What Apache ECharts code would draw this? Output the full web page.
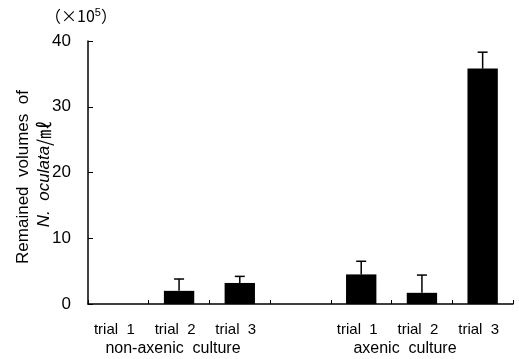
<!DOCTYPE html>
<html>
<head>
<meta charset="utf-8">
<script src="https://cdn.jsdelivr.net/npm/echarts@6/dist/echarts.min.js"></script>
<style>
  html, body { margin: 0; padding: 0; background: #fff; }
</style>
</head>
<body>
<div id="chart" style="width:519px;height:359px;"></div>
<script>
  var trials = ['trial  1', 'trial  2', 'trial  3', '', 'trial  1', 'trial  2', 'trial  3'];
  var volumes = [0, 2.0, 3.2, '-', 4.5, 1.7, 35.8];
  var errorTops = [0, 3.8, 4.2, '-', 6.5, 4.4, 38.3];
  var yTicks = [0, 10, 20, 30, 40];

  var chart = echarts.init(document.getElementById('chart'));
  var font = 'Liberation Sans, Arial, sans-serif';

  var errData = [];
  for (var i = 0; i < trials.length; i++) {
    if (volumes[i] !== '-' && volumes[i] > 0) {
      errData.push([i, volumes[i], errorTops[i]]);
    }
  }

  var option = {
    animation: false,
    grid: { left: 88, right: 6, top: 41, bottom: 55 },
    xAxis: {
      type: 'category',
      data: trials,
      boundaryGap: true,
      axisLine: { lineStyle: { color: '#000', width: 1.5 } },
      axisTick: { show: true, inside: true, length: 4, lineStyle: { color: '#000' } },
      axisLabel: { color: '#000', fontSize: 15, fontFamily: font, margin: 18, padding: [0, 8, 0, 0] }
    },
    yAxis: {
      type: 'value',
      min: yTicks[0],
      max: yTicks[yTicks.length - 1],
      interval: 10,
      splitLine: { show: false },
      axisLine: { show: true, lineStyle: { color: '#000', width: 1.5 } },
      axisTick: { show: true, inside: true, length: 5, lineStyle: { color: '#000' } },
      axisLabel: { color: '#000', fontSize: 17, fontFamily: font, margin: 17 }
    },
    graphic: [
      { type: 'text', left: 45, top: 7, style: {
        text: '（×10{s|5}）', fontSize: 16, fontFamily: 'Noto Sans CJK JP, sans-serif', fill: '#000',
        rich: { s: { fontSize: 11, verticalAlign: 'top', padding: [0, 0, 7, 0], fontFamily: font } }
      } },
      { type: 'text', x: 173, y: 349, style: { text: 'non-axenic  culture', fontSize: 16, fontFamily: font, fill: '#000', align: 'center', verticalAlign: 'middle' } },
      { type: 'text', x: 405, y: 349, style: { text: 'axenic  culture', fontSize: 16, fontFamily: font, fill: '#000', align: 'center', verticalAlign: 'middle' } },
      { type: 'text', x: 23, y: 177, rotation: Math.PI / 2, style: { text: 'Remained  volumes  of', fontSize: 17, fontFamily: font, fill: '#000', align: 'center', verticalAlign: 'middle' } },
      { type: 'text', x: 44, y: 174, rotation: Math.PI / 2, style: {
        text: '{i|N.  oculata}{m|/㎖}',
        fontSize: 17, fontFamily: font, fill: '#000', align: 'center', verticalAlign: 'middle',
        rich: {
          i: { fontStyle: 'italic', fontSize: 17, fontFamily: font, fill: '#000' },
          m: { fontSize: 18, fontFamily: 'Noto Sans CJK JP, sans-serif', fill: '#000' }
        }
      } }
    ],
    series: [
      {
        type: 'bar',
        data: volumes,
        barWidth: '50%',
        itemStyle: { color: '#000' }
      },
      {
        type: 'custom',
        data: errData,
        z: 5,
        renderItem: function (params, api) {
          var x = api.value(0);
          var lo = api.coord([x, api.value(1)]);
          var hi = api.coord([x, api.value(2)]);
          var cap = 5;
          return {
            type: 'group',
            children: [
              { type: 'line', shape: { x1: lo[0], y1: lo[1], x2: hi[0], y2: hi[1] }, style: { stroke: '#000', lineWidth: 1.5 } },
              { type: 'line', shape: { x1: hi[0] - cap, y1: hi[1], x2: hi[0] + cap, y2: hi[1] }, style: { stroke: '#000', lineWidth: 1.5 } }
            ]
          };
        }
      }
    ]
  };
  option && chart.setOption(option);
</script>
</body>
</html>
